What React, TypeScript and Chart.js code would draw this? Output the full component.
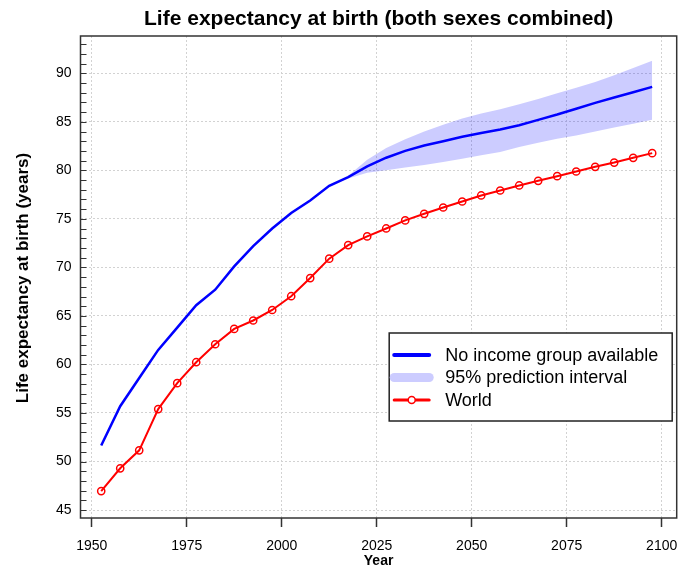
import React, { useEffect, useRef } from "react";
import { Chart, registerables } from "chart.js";

Chart.register(...registerables);

const FONT = '"Liberation Sans", Arial, Helvetica, sans-serif';

const TITLE = "Life expectancy at birth (both sexes combined)";
const X_TITLE = "Year";
const Y_TITLE = "Life expectancy at birth (years)";
const LEGEND_LABELS = ["No income group available", "95% prediction interval", "World"];

const YEARS = [
  1952.5, 1957.5, 1962.5, 1967.5, 1972.5, 1977.5, 1982.5, 1987.5, 1992.5, 1997.5,
  2002.5, 2007.5, 2012.5, 2017.5, 2022.5, 2027.5, 2032.5, 2037.5, 2042.5, 2047.5,
  2052.5, 2057.5, 2062.5, 2067.5, 2072.5, 2077.5, 2082.5, 2087.5, 2092.5, 2097.5,
];

const WORLD = [
  46.95, 49.3, 51.15, 55.4, 58.07, 60.23, 62.08, 63.66, 64.53, 65.61,
  67.03, 68.9, 70.9, 72.3, 73.19, 74.01, 74.84, 75.52, 76.17, 76.79,
  77.41, 77.92, 78.44, 78.92, 79.4, 79.88, 80.36, 80.8, 81.29, 81.77,
];

const NO_INCOME = [
  51.65, 55.7, 58.6, 61.5, 63.8, 66.1, 67.7, 70.1, 72.2, 74.0,
  75.6, 76.9, 78.4, 79.3, 80.4, 81.3, 82.0, 82.55, 83.0, 83.45,
  83.85, 84.2, 84.65, 85.2, 85.75, 86.35, 86.95, 87.5, 88.05, 88.6,
];

const BAND_YEARS = [
  2017.5, 2022.5, 2027.5, 2032.5, 2037.5, 2042.5, 2047.5, 2052.5, 2057.5,
  2062.5, 2067.5, 2072.5, 2077.5, 2082.5, 2087.5, 2092.5, 2097.5,
];
const BAND_UPPER = [
  79.45, 81.1, 82.3, 83.2, 84.0, 84.7, 85.35, 85.85, 86.3,
  86.8, 87.35, 87.95, 88.5, 89.1, 89.8, 90.55, 91.3,
];
const BAND_LOWER = [
  79.15, 79.75, 80.0, 80.3, 80.55, 80.85, 81.2, 81.55, 81.9,
  82.4, 82.85, 83.25, 83.6, 84.0, 84.4, 84.8, 85.2,
];

const X_TICKS = [1950, 1975, 2000, 2025, 2050, 2075, 2100];
const Y_TICKS = [45, 50, 55, 60, 65, 70, 75, 80, 85, 90];

const BLUE = "#0000ff";
const RED = "#ff0000";
const BAND = "rgba(0,0,255,0.2)";
const BAND_SOLID = "rgb(204,204,255)";
const GRID = "#d2d2d2";
const FRAME = "#333333";

const decor = {
  id: "decor",
  afterDraw(chart: any) {
    const { ctx, chartArea: a, scales } = chart;
    const y = scales.y;
    ctx.save();

    // inward minor/major ticks on left axis
    ctx.strokeStyle = FRAME;
    ctx.lineWidth = 1;
    for (let v = Math.ceil(y.min); v <= Math.floor(y.max); v++) {
      const py = Math.round(y.getPixelForValue(v)) + 0.5;
      ctx.beginPath();
      ctx.moveTo(a.left, py);
      ctx.lineTo(a.left + 6, py);
      ctx.stroke();
    }

    // frame
    ctx.lineWidth = 1.5;
    ctx.strokeStyle = FRAME;
    ctx.strokeRect(a.left, a.top, a.right - a.left, a.bottom - a.top);

    const cx = (a.left + a.right) / 2;
    const cy = (a.top + a.bottom) / 2;

    // title
    ctx.fillStyle = "#000";
    ctx.textAlign = "center";
    ctx.textBaseline = "alphabetic";
    ctx.font = `bold 21px ${FONT}`;
    ctx.fillText(TITLE, cx, 25);

    // x title
    ctx.font = `bold 14px ${FONT}`;
    ctx.textBaseline = "middle";
    ctx.fillText(X_TITLE, cx, 561);

    // y title
    ctx.save();
    ctx.translate(23, cy + 1);
    ctx.rotate(-Math.PI / 2);
    ctx.font = `bold 17px ${FONT}`;
    ctx.textBaseline = "middle";
    ctx.fillText(Y_TITLE, 0, 0);
    ctx.restore();

    // legend
    const bw = 283;
    const bh = 88;
    const bx = a.right - 4.5 - bw;
    const by = a.top + 297;
    ctx.fillStyle = "#fff";
    ctx.fillRect(bx, by, bw, bh);
    ctx.lineWidth = 1.5;
    ctx.strokeStyle = "#222";
    ctx.strokeRect(bx, by, bw, bh);

    const rows = [by + 22, by + 44.5, by + 67];
    const sx0 = bx + 5;
    const sx1 = bx + 40;

    ctx.lineCap = "round";
    ctx.strokeStyle = BLUE;
    ctx.lineWidth = 4;
    ctx.beginPath();
    ctx.moveTo(sx0, rows[0]);
    ctx.lineTo(sx1, rows[0]);
    ctx.stroke();

    ctx.strokeStyle = BAND_SOLID;
    ctx.lineWidth = 9;
    ctx.beginPath();
    ctx.moveTo(sx0, rows[1]);
    ctx.lineTo(sx1, rows[1]);
    ctx.stroke();

    ctx.strokeStyle = RED;
    ctx.lineWidth = 3;
    ctx.beginPath();
    ctx.moveTo(sx0, rows[2]);
    ctx.lineTo(sx1, rows[2]);
    ctx.stroke();
    ctx.lineWidth = 1.5;
    ctx.fillStyle = "#fff";
    ctx.beginPath();
    ctx.arc((sx0 + sx1) / 2, rows[2], 3.5, 0, Math.PI * 2);
    ctx.fill();
    ctx.stroke();

    ctx.fillStyle = "#000";
    ctx.textAlign = "left";
    ctx.textBaseline = "middle";
    ctx.font = `18px ${FONT}`;
    LEGEND_LABELS.forEach((t, i) => ctx.fillText(t, bx + 56, rows[i] + 1));

    ctx.restore();
  },
};

export default function App() {
  const ref = useRef<HTMLCanvasElement>(null);

  useEffect(() => {
    const canvas = ref.current;
    if (!canvas) return;
    Chart.defaults.font.family = FONT;
    const chart = new Chart(canvas, {
      type: "line",
      data: {
        datasets: [
          {
            label: "World",
            data: YEARS.map((x, i) => ({ x, y: WORLD[i] })),
            borderColor: RED,
            borderWidth: 2,
            pointRadius: 3.6,
            pointBorderWidth: 1.5,
            pointBorderColor: RED,
            pointBackgroundColor: "rgba(255,255,255,0)",
            tension: 0,
            fill: false,
          },
          {
            label: "No income group available",
            data: YEARS.map((x, i) => ({ x, y: NO_INCOME[i] })),
            borderColor: BLUE,
            borderWidth: 2.5,
            pointRadius: 0,
            tension: 0,
            fill: false,
          },
          {
            label: "95% prediction interval",
            data: BAND_YEARS.map((x, i) => ({ x, y: BAND_UPPER[i] })),
            borderColor: "rgba(0,0,0,0)",
            borderWidth: 0,
            pointRadius: 0,
            backgroundColor: BAND,
            fill: "+1",
            tension: 0,
          },
          {
            label: "lower",
            data: BAND_YEARS.map((x, i) => ({ x, y: BAND_LOWER[i] })),
            borderColor: "rgba(0,0,0,0)",
            borderWidth: 0,
            pointRadius: 0,
            fill: false,
            tension: 0,
          },
        ],
      },
      options: {
        responsive: false,
        animation: false,
        events: [],
        layout: { padding: { top: 36, right: 19.3, left: 0, bottom: 0 } },
        plugins: {
          legend: { display: false },
          title: { display: false },
          tooltip: { enabled: false },
        },
        scales: {
          x: {
            type: "linear",
            min: 1947.05,
            max: 2103.95,
            afterFit: (s: any) => {
              s.height = 48;
            },
            afterBuildTicks: (s: any) => {
              s.ticks = X_TICKS.map((v) => ({ value: v }));
            },
            ticks: {
              includeBounds: false,
              autoSkip: false,
              maxRotation: 0,
              padding: 10.5,
              color: "#000",
              font: { size: 14, family: FONT },
              callback: (v: any) => String(v),
            },
            grid: {
              color: GRID,
              lineWidth: 1,
              drawTicks: true,
              tickLength: 9,
              tickColor: FRAME,
              tickWidth: 1.5,
              tickBorderDash: [],
            },
            border: { display: false, dash: [2, 2] },
          },
          y: {
            type: "linear",
            min: 44.18,
            max: 93.84,
            afterFit: (s: any) => {
              s.width = 80.5;
            },
            afterBuildTicks: (s: any) => {
              s.ticks = Y_TICKS.map((v) => ({ value: v }));
            },
            ticks: {
              includeBounds: false,
              padding: 9,
              color: "#000",
              font: { size: 14, family: FONT },
              callback: (v: any) => String(v),
            },
            grid: {
              color: GRID,
              lineWidth: 1,
              drawTicks: false,
            },
            border: { display: false, dash: [2, 2] },
          },
        },
      },
      plugins: [decor],
    } as any);
    return () => chart.destroy();
  }, []);

  return (
    <div style={{ position: "fixed", left: 0, top: 0, width: 696, height: 566, background: "#fff" }}>
      <canvas ref={ref} width={696} height={566} style={{ display: "block", width: 696, height: 566 }} />
    </div>
  );
}
